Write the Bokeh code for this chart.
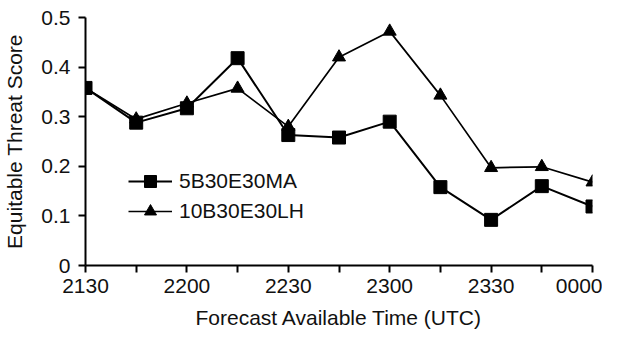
from bokeh.plotting import figure
from bokeh.models import FixedTicker, Range1d, Legend, LegendItem
from bokeh.embed import file_html
from bokeh.resources import INLINE

times = ["2130", "2145", "2200", "2215", "2230", "2245", "2300", "2315", "2330", "2345", "0000"]
tick_labels = ["2130", "", "2200", "", "2230", "", "2300", "", "2330", "", "0000"]
ma_5b = [0.358, 0.288, 0.317, 0.418, 0.263, 0.258, 0.290, 0.158, 0.092, 0.160, 0.119]
lh_10b = [0.358, 0.295, 0.327, 0.357, 0.280, 0.420, 0.472, 0.343, 0.197, 0.199, 0.168]
series_names = ["5B30E30MA", "10B30E30LH"]

x = list(range(len(times)))
FONT = "Liberation Sans"
TXT = "#111111"
FS = "21px"

p = figure(width=602, height=331, output_backend="svg", toolbar_location=None,
           x_range=Range1d(0, len(times) - 1), y_range=Range1d(0, 0.5),
           min_border_left=84, min_border_right=10, min_border_top=17, min_border_bottom=62)
p.outline_line_color = None
p.xgrid.visible = False
p.ygrid.visible = False

l1 = p.line(x, ma_5b, line_color="black", line_width=2)
s1 = p.scatter(x, ma_5b, marker="square", size=13, fill_color="black", line_color="black")
l2 = p.line(x, lh_10b, line_color="black", line_width=1.7)
s2 = p.scatter(x, lh_10b, marker="triangle", size=13, fill_color="black", line_color="black")

legend = Legend(items=[LegendItem(label=series_names[0], renderers=[l1, s1]),
                       LegendItem(label=series_names[1], renderers=[l2, s2])],
                location=(43, 39))
legend.border_line_color = None
legend.background_fill_alpha = 0
legend.padding = 0
legend.margin = 0
legend.spacing = 0
legend.glyph_width = 44
legend.glyph_height = 30
legend.label_height = 30
legend.label_standoff = 7
legend.label_text_font = FONT
legend.label_text_font_size = FS
legend.label_text_color = TXT
p.add_layout(legend, "center")

p.xaxis.ticker = FixedTicker(ticks=x)
p.xaxis.major_label_overrides = {i: t for i, t in enumerate(tick_labels)}
p.yaxis.ticker = FixedTicker(ticks=[0, 0.1, 0.2, 0.3, 0.4, 0.5])
p.yaxis.major_label_overrides = {0: "0"}

for ax in (p.xaxis[0], p.yaxis[0]):
    ax.axis_line_color = "black"
    ax.axis_line_width = 2
    ax.major_tick_line_color = "black"
    ax.major_tick_line_width = 2
    ax.major_tick_in = 0
    ax.major_tick_out = 7
    ax.minor_tick_line_color = None
    ax.major_label_text_font = FONT
    ax.major_label_text_font_size = FS
    ax.major_label_text_color = TXT
    ax.axis_label_text_font = FONT
    ax.axis_label_text_font_size = FS
    ax.axis_label_text_font_style = "normal"
    ax.axis_label_text_color = TXT

p.xaxis.axis_label = "Forecast Available Time (UTC)"
p.yaxis.axis_label = "Equitable Threat Score"
p.xaxis.major_label_standoff = 6
p.xaxis.axis_label_standoff = 10
p.yaxis.major_label_standoff = 8
p.yaxis.axis_label_standoff = 12

open("out.html", "w").write(file_html(p, INLINE))
